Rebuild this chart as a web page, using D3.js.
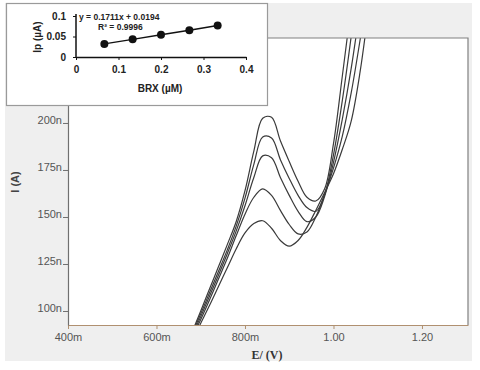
<!DOCTYPE html>
<html>
<head>
<meta charset="utf-8">
<script src="https://cdn.jsdelivr.net/npm/d3@7"></script>
<style>
  body { margin: 0; background: #fff; }
  svg { display: block; }
</style>
</head>
<body>
<div id="chart"></div>
<script>
// Potential grid (V) shared by all voltammograms
var potential = [0.66, 0.68, 0.70, 0.72, 0.74, 0.76, 0.78, 0.80, 0.82, 0.84, 0.86,
                 0.88, 0.90, 0.92, 0.94, 0.96, 0.98, 1.00, 1.02, 1.04, 1.06, 1.08];
// Current (nA) for each concentration, highest peak first
var curveA = [77, 88.5, 100, 111.8, 123.5, 135.3, 147.5, 164, 185, 202.5, 203, 190.5, 179.5, 169, 160.5, 158.5, 165, 189, 225, 262, 300, 340];
var curveB = [76, 87.5, 98.5, 109.8, 121, 132.5, 145, 160, 178, 192.5, 192, 180.5, 170.5, 161.5, 155, 153, 162, 183, 212, 246, 284, 325];
var curveC = [75, 86.5, 97, 108, 119, 130.5, 142.5, 156, 171, 182.5, 181.5, 171, 161.5, 153, 147.5, 150, 161, 179, 202, 229, 261, 295];
var curveD = [74, 85.5, 95.5, 106, 117, 128, 140, 151.5, 160.5, 165, 161.5, 153.5, 146, 141, 142, 150, 162, 176, 193, 216, 244, 275];
var curveE = [73, 84, 93.5, 103, 113, 123, 133, 141.5, 146.5, 148, 144, 137.5, 134.5, 137.5, 144.5, 153.5, 163, 173, 186, 201, 227, 262];
var curves = [curveA, curveB, curveC, curveD, curveE];

var xTicks = [0.4, 0.6, 0.8, 1.0, 1.2];
var yTicks = [100, 125, 150, 175, 200];

// Inset calibration data
var brx = [0.0667, 0.1333, 0.2, 0.2667, 0.3333];
var ip = [0.032, 0.043, 0.054, 0.065, 0.077];
var insetXTicks = [0, 0.1, 0.2, 0.3, 0.4];
var insetYTicks = [0, 0.05, 0.1];

var width = 480, height = 370;
var plot = {left: 68, right: 468, top: 38, bottom: 325};

var svg = d3.select("#chart").append("svg")
    .attr("width", width)
    .attr("height", height);

// grey panel behind everything
svg.append("rect")
    .attr("x", 5).attr("y", 3)
    .attr("width", 467).attr("height", 358)
    .attr("fill", "#efefef");

svg.append("rect")
    .attr("x", plot.left).attr("y", plot.top)
    .attr("width", plot.right - plot.left).attr("height", plot.bottom - plot.top)
    .attr("fill", "#fff");

var x = d3.scaleLinear().domain([0.4, 1.304]).range([plot.left, plot.right]);
var y = d3.scaleLinear().domain([92.55, 245.2]).range([plot.bottom, plot.top]);

svg.append("clipPath").attr("id", "clip")
  .append("rect")
    .attr("x", plot.left).attr("y", plot.top)
    .attr("width", plot.right - plot.left).attr("height", plot.bottom - plot.top);

var line = d3.line()
    .x(function (d, i) { return x(potential[i]); })
    .y(function (d) { return y(d); })
    .curve(d3.curveCatmullRom.alpha(0.5));

svg.append("g")
    .attr("clip-path", "url(#clip)")
  .selectAll("path")
  .data(curves)
  .enter().append("path")
    .attr("d", line)
    .attr("fill", "none")
    .attr("stroke", "#3a3a3a")
    .attr("stroke-width", 1.2);

// top and right frame
svg.append("path")
    .attr("d", "M" + plot.left + "," + plot.top + "H" + plot.right + "V" + plot.bottom)
    .attr("fill", "none")
    .attr("stroke", "#808080")
    .attr("stroke-width", 1.2);

var xAxis = svg.append("g")
    .attr("transform", "translate(0," + plot.bottom + ")")
    .call(d3.axisBottom(x)
        .tickValues(xTicks)
        .tickSize(4)
        .tickSizeOuter(0)
        .tickPadding(4)
        .tickFormat(function (d) { return d < 1 ? Math.round(d * 1000) + "m" : d.toFixed(2); }));
xAxis.select(".domain").attr("stroke", "#b09070").attr("stroke-width", 1.2);
xAxis.selectAll(".tick line").attr("stroke", "#b09070");
xAxis.selectAll("text")
    .attr("fill", "#555")
    .style("font", "11px 'Liberation Sans', Arial, sans-serif");

var yAxis = svg.append("g")
    .attr("transform", "translate(" + plot.left + ",0)")
    .call(d3.axisLeft(y)
        .tickValues(yTicks)
        .tickSize(5)
        .tickSizeOuter(0)
        .tickPadding(1)
        .tickFormat(function (d) { return d + "n"; }));
yAxis.select(".domain").attr("stroke", "#707070").attr("stroke-width", 1.2);
yAxis.selectAll(".tick line").attr("stroke", "#707070");
yAxis.selectAll("text")
    .attr("dy", "0.05em")
    .attr("fill", "#555")
    .style("font", "11px 'Liberation Sans', Arial, sans-serif");

svg.append("text")
    .attr("transform", "translate(19,182) rotate(-90)")
    .attr("text-anchor", "middle")
    .attr("fill", "#444")
    .style("font", "bold 11px 'Liberation Sans', Arial, sans-serif")
    .text("I (A)");

svg.append("text")
    .attr("x", 267).attr("y", 359)
    .attr("text-anchor", "middle")
    .attr("fill", "#333")
    .style("font", "bold 12px 'Liberation Serif', 'Times New Roman', serif")
    .text("E/ (V)");

// Inset calibration plot
var inset = svg.append("g");
inset.append("rect")
    .attr("x", 6.5).attr("y", 3.5)
    .attr("width", 261).attr("height", 102)
    .attr("fill", "#fff")
    .attr("stroke", "#9a9a9a")
    .attr("stroke-width", 1.2);

var ix = d3.scaleLinear().domain([0, 0.4]).range([76, 246]);
var iy = d3.scaleLinear().domain([0, 0.1]).range([57, 16]);
var insetFont = "bold 10px 'Liberation Sans', Arial, sans-serif";

var ixAxis = inset.append("g")
    .attr("transform", "translate(0,57)")
    .call(d3.axisBottom(ix)
        .tickValues(insetXTicks)
        .tickSize(3)
        .tickSizeOuter(0)
        .tickPadding(6)
        .tickFormat(function (d) { return d === 0 ? "0" : d3.format(".1f")(d); }));
var iyAxis = inset.append("g")
    .attr("transform", "translate(76,0)")
    .call(d3.axisLeft(iy)
        .tickValues(insetYTicks)
        .tickSize(3)
        .tickSizeOuter(0)
        .tickPadding(7)
        .tickFormat(function (d) { return d === 0 ? "0" : String(d); }));
iyAxis.select(".domain").attr("d", "M0,57V14");
[ixAxis, iyAxis].forEach(function (a) {
    a.select(".domain").attr("stroke", "#111").attr("stroke-width", 1.5);
    a.selectAll(".tick line").attr("stroke", "#111");
    a.selectAll("text").attr("fill", "#222").style("font", insetFont);
});

inset.append("path")
    .datum(brx)
    .attr("d", d3.line()
        .x(function (d) { return ix(d); })
        .y(function (d, i) { return iy(ip[i]); }))
    .attr("fill", "none")
    .attr("stroke", "#111")
    .attr("stroke-width", 1.5);

inset.selectAll("circle")
    .data(brx)
    .enter().append("circle")
    .attr("cx", function (d) { return ix(d); })
    .attr("cy", function (d, i) { return iy(ip[i]); })
    .attr("r", 4)
    .attr("fill", "#111");

inset.append("text")
    .attr("x", 79).attr("y", 20)
    .attr("fill", "#222")
    .style("font", "bold 8.5px 'Liberation Sans', Arial, sans-serif")
    .text("y = 0.1711x + 0.0194");
inset.append("text")
    .attr("x", 98).attr("y", 30)
    .attr("fill", "#222")
    .style("font", "bold 8.5px 'Liberation Sans', Arial, sans-serif")
    .text("R² = 0.9996");

inset.append("text")
    .attr("x", 160).attr("y", 92)
    .attr("text-anchor", "middle")
    .attr("fill", "#222")
    .style("font", insetFont)
    .text("BRX (µM)");
inset.append("text")
    .attr("transform", "translate(41,37) rotate(-90)")
    .attr("text-anchor", "middle")
    .attr("fill", "#222")
    .style("font", insetFont)
    .text("Ip (µA)");
</script>
</body>
</html>
